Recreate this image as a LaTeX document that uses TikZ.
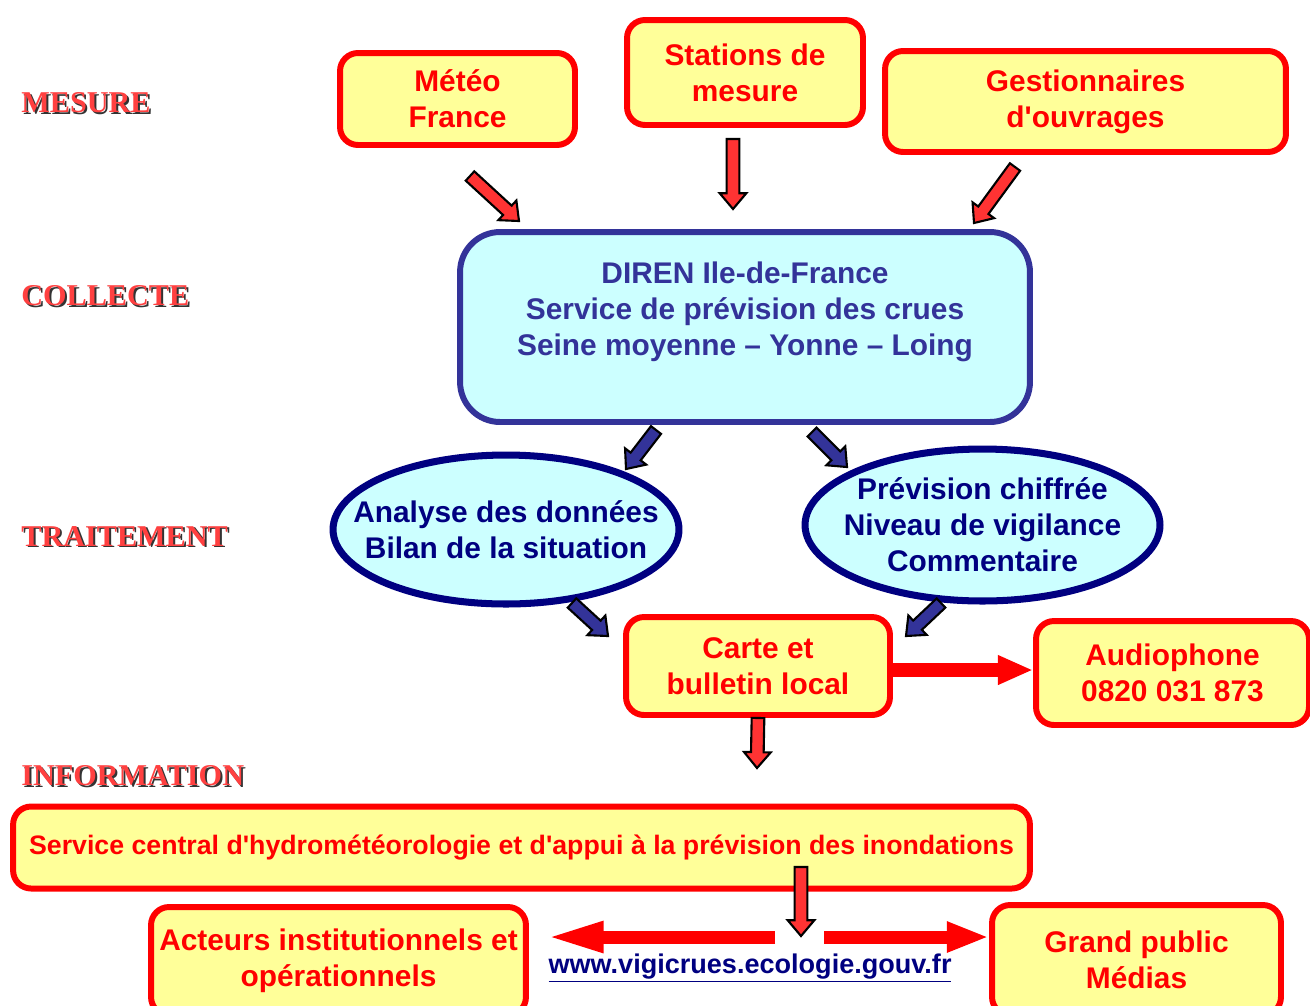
\documentclass[tikz,border=0pt]{standalone}
\usepackage{fontspec}
\setmainfont{Liberation Sans}
\newfontfamily\lblfont{Liberation Serif}
\usetikzlibrary{calc,arrows.meta,shapes.geometric}

\definecolor{boxyellow}{HTML}{FFFF99}
\definecolor{boxred}{HTML}{FF0000}
\definecolor{dirblue}{HTML}{333399}
\definecolor{cyanfill}{HTML}{CCFFFF}
\definecolor{navyc}{HTML}{000080}
\definecolor{arrred}{HTML}{FF3333}
\definecolor{lblred}{HTML}{FF4040}

\newcommand\shadowlbl[1]{\makebox[0pt][l]{\kern1.1pt\raisebox{-1.1pt}{\color{black!80}#1}}#1}
\newcommand\apos{\textquotesingle}

% block arrow with black outline: from, to, fill colour
\newcommand\blockarrow[3]{%
  \coordinate (ba-hb) at ($(#2)!9pt!(#1)$);
  \draw[fill=#3, draw=black, line width=1.2pt, line join=miter]
    ($(#1)!3.6pt!90:(#2)$) -- ($(ba-hb)!3.6pt!90:(#2)$) -- ($(ba-hb)!7.6pt!90:(#2)$)
    -- (#2) -- ($(ba-hb)!7.6pt!-90:(#2)$) -- ($(ba-hb)!3.6pt!-90:(#2)$)
    -- ($(#1)!3.6pt!-90:(#2)$) -- cycle;
}

\tikzset{
  txt/.style={font=\bfseries\fontsize{17}{20.4}\selectfont, align=center},
  ybox/.style={txt, draw=boxred, fill=boxyellow, text=boxred, line width=3.4pt,
    rounded corners=0.36cm, inner sep=2pt},
  bbox/.style={txt, draw=dirblue, fill=cyanfill, text=dirblue, line width=3.4pt,
    rounded corners=0.8cm, inner sep=2pt},
  ell/.style={txt, ellipse, draw=navyc, fill=cyanfill, text=navyc, line width=4pt,
    inner xsep=-0.7cm, inner ysep=0pt},
  lbl/.style={font=\lblfont\bfseries\fontsize{17.2}{20}\selectfont, text=lblred, inner sep=0pt, anchor=west},
  flatarrow/.style={draw=boxred, line width=#1},
}

\begin{document}
\begin{tikzpicture}[x=0.02cm, y=-0.02cm]
\useasboundingbox (0,0) rectangle (1310,1005);

% stage labels
\node[lbl] (lmes) at (21,104) {\shadowlbl{MESURE}};
\node[lbl] (lcol) at (21,297) {\shadowlbl{COLLECTE}};
\node[lbl] (ltra) at (21,537) {\shadowlbl{TRAITEMENT}};
\node[lbl] (linf) at (21,777) {\shadowlbl{INFORMATION}};

% boxes
\node[ybox, minimum width=4.70cm, minimum height=1.84cm] (meteo) at (457.5,99) {Météo\\France};
\node[ybox, minimum width=4.72cm, minimum height=2.10cm] (stations) at (745,72.5) {Stations de\\mesure};
\node[ybox, minimum width=8.02cm, minimum height=2.02cm] (gest) at (1085.5,101.5) {Gestionnaires\\d\apos ouvrages};

\node[bbox, minimum width=11.4cm, minimum height=3.8cm] (diren) at (745,327)
  {DIREN Ile-de-France\\Service de prévision des crues\\Seine moyenne -- Yonne -- Loing\\[-0.2cm]\strut};

\node[ell, minimum width=6.92cm, minimum height=2.98cm] (ana) at (506,529.5)
  {Analyse des données\\Bilan de la situation};
\node[ell, minimum width=7.10cm, minimum height=3.04cm] (prev) at (982.5,525)
  {Prévision chiffrée\\Niveau de vigilance\\Commentaire};

\node[ybox, minimum width=5.28cm, minimum height=1.96cm] (carte) at (758,666) {Carte et\\bulletin local};
\node[ybox, minimum width=5.46cm, minimum height=2.08cm] (audio) at (1172.5,673) {Audiophone\\0820 031 873};

\node[ybox, font=\bfseries\fontsize{15.2}{18}\selectfont, minimum width=20.34cm, minimum height=1.64cm] (central) at (521.5,847.5)
  {Service central d\apos hydrométéorologie et d\apos appui à la prévision des inondations};

\node[ybox, minimum width=7.5cm, minimum height=2.16cm] (acteurs) at (338.5,961) {Acteurs institutionnels et\\opérationnels};
\node[ybox, minimum width=5.78cm, minimum height=2.2cm] (grand) at (1136.5,960) {Grand public\\Médias};

\node[font=\bfseries\fontsize{15.4}{18}\selectfont, text=navyc, inner sep=0pt] (url) at (750,968)
  {\underline{www.vigicrues.ecologie.gouv.fr}};

% arrow end points
\coordinate (a1s) at (470,176);
\coordinate (a1e) at (519,221);
\coordinate (a2s) at (733,139);
\coordinate (a2e) at (733,209);
\coordinate (a3s) at (1015,167);
\coordinate (a3e) at (974,223);
\coordinate (b1s) at (656,430);
\coordinate (b1e) at (626,469);
\coordinate (b2s) at (812,432);
\coordinate (b2e) at (847,467);
\coordinate (b3s) at (572,603);
\coordinate (b3e) at (608,636);
\coordinate (b4s) at (941,603);
\coordinate (b4e) at (906,636);
\coordinate (c1e) at (757,768);
\coordinate (d1s) at (801,867);
\coordinate (d1e) at (801,936);
\coordinate (ls) at (775,937);
\coordinate (rs) at (824,937);

% block arrows
\blockarrow{a1s}{a1e}{arrred}
\blockarrow{a2s}{a2e}{arrred}
\blockarrow{a3s}{a3e}{arrred}
\blockarrow{b1s}{b1e}{dirblue}
\blockarrow{b2s}{b2e}{dirblue}
\blockarrow{b3s}{b3e}{dirblue}
\blockarrow{b4s}{b4e}{dirblue}
\blockarrow{carte.south}{c1e}{arrred}
\blockarrow{d1s}{d1e}{arrred}

% flat red arrows
\draw[flatarrow=8.5pt, -{Triangle[length=20pt, width=15.5pt]}] ($(carte.east)+(0,4)$) -- ($(audio.west |- carte.east)+(0,4)$);
\draw[flatarrow=7.4pt, -{Triangle[length=33pt, width=16pt]}, shorten >=9.5pt] (ls) -- (acteurs.east |- ls);
\draw[flatarrow=7.4pt, -{Triangle[length=24pt, width=16pt]}] (rs) -- (grand.west |- rs);

\end{tikzpicture}
\end{document}
